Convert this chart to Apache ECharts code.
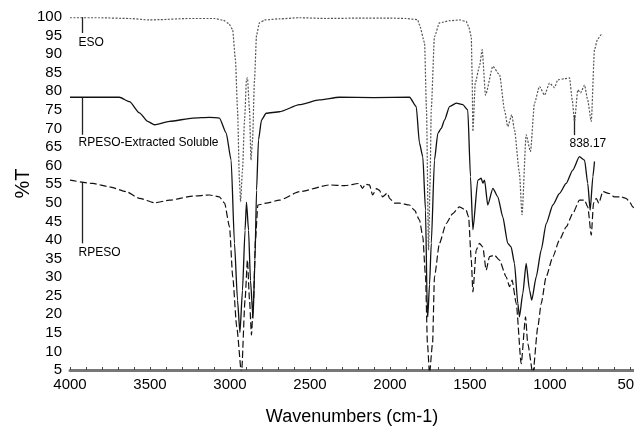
<!DOCTYPE html>
<html>
<head>
<meta charset="utf-8">
<script src="https://cdn.jsdelivr.net/npm/echarts@6/dist/echarts.min.js"></script>
<style>
  html, body { margin: 0; padding: 0; background: #fff; }
  #main { width: 634px; height: 433px; }
</style>
</head>
<body>
<div id="main"></div>
<script>
// FTIR spectra, wavenumber (cm-1) vs %T
var esoWave = [4000,3816,3628,3503,3441,3253,3097,3041,3009,2984,2966,2953,2941,2934,2922,2909,2897,2891,2878,2869,2859,2847,2834,2816,2784,2691,2566,2400,2200,2000,1900,1828,1816,1784,1772,1759,1750,1742,1722,1691,1628,1566,1524,1509,1492,1487,1482,1467,1441,1424,1403,1357,1315,1284,1264,1239,1222,1191,1175,1149,1122,1097,1066,1034,1003,972,951,909,878,861,847,826,809,784,766,742,722,703,680,670];
var esoT = [99.8,99.8,99.6,99.2,99.3,99.6,99.6,99.1,98.3,96.7,88.5,75,56.1,50.3,58.8,72.3,83.1,83.6,75,61.5,66.9,83.1,95.2,98.4,99.2,99.5,99.8,99.6,99.7,99.7,99.6,99.3,97.9,93.1,75,37.2,55,75.3,94.7,98.4,99,99.2,98.8,97.5,94.7,85,69.2,82.3,86.7,91.2,79,86.7,84.4,74.9,70.5,73.7,69.6,58,46.8,68.3,63.8,76.8,81.3,79,82.2,81,83.1,83.4,83.6,77.7,71.9,80.4,79.6,81.7,78,71.9,91.2,94,95.2,94.8];

var solWave = [4000,3691,3628,3566,3514,3472,3378,3232,3128,3066,3024,2993,2972,2953,2938,2922,2906,2897,2884,2872,2856,2844,2834,2822,2803,2774,2691,2566,2441,2316,2100,1878,1836,1816,1795,1778,1767,1764,1753,1742,1722,1701,1680,1659,1628,1586,1545,1514,1497,1482,1451,1430,1420,1409,1389,1357,1326,1295,1264,1243,1222,1201,1191,1170,1149,1128,1114,1086,1055,1024,982,941,899,858,816,784,764,749,732,722];
var solT = [78.4,78.4,77.2,74.2,71.9,71,71.9,72.8,73,72.8,68.8,61.5,39.1,23.8,15.1,26.4,42.6,50.2,42.6,29.1,18.9,34.5,53.4,66.9,72.3,74.1,74.5,76.4,77.7,78.4,78.3,78.4,75.9,66.1,62.4,48,21.1,19.3,28,39.1,61.5,68.7,70,72.3,75.9,76.8,76.4,75,57,42.7,56.1,56.6,55.3,56.1,49.4,53.9,51.6,46.2,39.1,38.1,33.7,22.9,19.3,25.6,33.7,26.5,23.8,30.1,37.3,44.4,49.4,52.5,55.2,58.8,62.4,61.5,55.2,48,57,61.1];

var rpWave = [4000,3857,3753,3649,3566,3472,3378,3232,3128,3066,3034,3003,2983,2958,2928,2906,2891,2878,2866,2853,2841,2826,2774,2691,2566,2378,2284,2191,2172,2153,2128,2109,2084,2066,2047,2016,2003,1972,1941,1878,1847,1816,1795,1778,1766,1753,1734,1722,1691,1649,1608,1566,1524,1509,1492,1482,1461,1441,1420,1399,1378,1347,1316,1274,1253,1237,1211,1180,1153,1139,1107,1076,1055,1024,982,941,899,858,816,784,764,742,728,711,695,670,629,598,556,525,503,483,450];
var rpT = [56.1,55.2,54.3,53,51.2,50,50.7,51.8,52.1,51.6,49.9,43.5,30.1,16.6,4,23.8,34.6,23.8,14.4,23.8,40,49.4,49.9,50.7,53,54.8,54.6,55.2,53.9,55,54.8,52.1,53.8,53.4,51.6,52.6,51.2,49.9,49.9,49.4,48,45.4,40.9,30.1,12.2,4,12.2,30.1,39.1,44.4,47.1,48.9,48,46.2,34.6,26,37.3,39.1,38.1,31.9,35.5,35.9,34.6,30.1,27.4,29.2,22.9,6.7,19.3,12.1,4,16.6,22.9,30.1,35.5,40,43.5,47.1,50.7,50.7,48.9,41.3,49.9,51.2,49.9,53,52.5,51.6,51.6,51.2,50.3,48.9,47.5];

// labels drawn on the plot (wavenumber, %T from / to, %T of the text)
var noteText = ['ESO', 'RPESO-Extracted Soluble', 'RPESO', '838.17'];
var noteWave = [3922, 3922, 3922, 853];
var noteFrom = [100, 78.4, 55.6, 73.6];
var noteTo = [95.7, 68.3, 39.1, 68.2];
var noteAt = [93.1, 66.2, 36.6, 65.8];

function zip(xs, ys) {
  var out = [];
  for (var i = 0; i < xs.length; i++) out.push([xs[i], ys[i]]);
  return out;
}

var font = 'Liberation Sans, Arial, sans-serif';
var chart = echarts.init(document.getElementById('main'));

var option = {
  animation: false,
  backgroundColor: '#fff',
  // the spectrum runs past the right edge of the picture, so the grid does too
  grid: { left: 70, right: -76, top: 17, bottom: 63, containLabel: false, outerBoundsMode: 'none' },
  xAxis: {
    type: 'value',
    inverse: true,
    min: 0,
    max: 4000,
    interval: 500,
    name: 'Wavenumbers (cm-1)',
    nameLocation: 'middle',
    nameGap: 38,
    nameMoveOverlap: false,
    nameTextStyle: { fontSize: 18, color: '#000', fontFamily: font, padding: [0, 76, 0, 0] },
    axisLine: { show: true, onZero: false, lineStyle: { color: '#777', width: 3 } },
    axisTick: { show: true, inside: true, length: 3, lineStyle: { color: '#444' } },
    minorTick: { show: true, splitNumber: 5, length: 3, lineStyle: { color: '#444' } },
    splitLine: { show: false },
    axisLabel: { fontSize: 15, color: '#000', fontFamily: font, margin: 7, formatter: function (v) { return String(v); } }
  },
  yAxis: {
    type: 'value',
    min: 5,
    max: 100,
    interval: 5,
    name: '%T',
    nameLocation: 'middle',
    nameGap: 37,
    nameMoveOverlap: false,
    nameTextStyle: { fontSize: 20, color: '#000', fontFamily: font, padding: [0, 0, 0, 20] },
    axisLine: { show: true, lineStyle: { color: '#000', width: 1 } },
    axisTick: { show: true, length: 3, lineStyle: { color: '#000' } },
    minorTick: { show: true, splitNumber: 5, length: 2, lineStyle: { color: '#333' } },
    splitLine: { show: false },
    axisLabel: { fontSize: 15, color: '#000', fontFamily: font, margin: 8 }
  },
  series: [
    {
      name: 'ESO', type: 'line', showSymbol: false, smooth: 0.2, smoothMonotone: 'x',
      data: zip(esoWave, esoT),
      lineStyle: { color: '#555', width: 1.2, type: [2, 1.5] }
    },
    {
      name: 'RPESO-Extracted Soluble', type: 'line', showSymbol: false, smooth: 0.2, smoothMonotone: 'x',
      data: zip(solWave, solT),
      lineStyle: { color: '#111', width: 1.3 }
    },
    {
      name: 'RPESO', type: 'line', showSymbol: false, smooth: 0.2, smoothMonotone: 'x',
      data: zip(rpWave, rpT),
      lineStyle: { color: '#111', width: 1.2, type: [7, 3] }
    }
  ]
};
chart.setOption(option);

// annotation lines + texts, placed through the grid's own scales
var g = [];
for (var i = 0; i < noteText.length; i++) {
  var p1 = chart.convertToPixel({ gridIndex: 0 }, [noteWave[i], noteFrom[i]]);
  var p2 = chart.convertToPixel({ gridIndex: 0 }, [noteWave[i], noteTo[i]]);
  var pt = chart.convertToPixel({ gridIndex: 0 }, [noteWave[i], noteAt[i]]);
  g.push({
    type: 'line',
    shape: { x1: Math.round(p1[0]) + 0.5, y1: p1[1], x2: Math.round(p1[0]) + 0.5, y2: p2[1] },
    style: { stroke: '#222', lineWidth: 1.3 }
  });
  g.push({
    type: 'text',
    x: p1[0] - 4,
    y: pt[1],
    style: { text: noteText[i], fontSize: 12, fontFamily: font, fill: '#000', verticalAlign: 'middle', align: 'left' }
  });
}
chart.setOption({ graphic: g });
</script>
</body>
</html>
